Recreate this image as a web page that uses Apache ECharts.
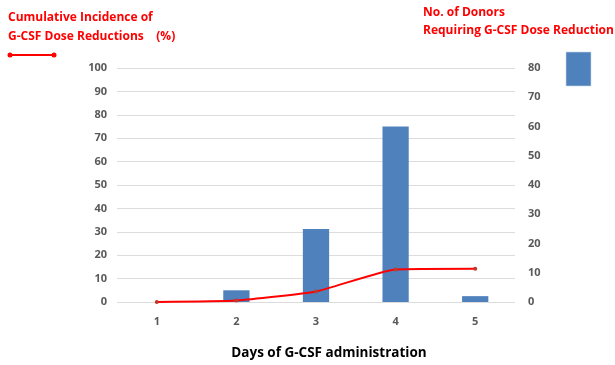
<!DOCTYPE html>
<html>
<head>
<meta charset="utf-8">
<script src="https://cdn.jsdelivr.net/npm/echarts@6/dist/echarts.min.js"></script>
<style>
  html, body { margin: 0; padding: 0; background: #fff; }
  #chart { width: 615px; height: 365px; }
</style>
</head>
<body>
<div id="chart"></div>
<script>
// Days of G-CSF administration
const days = ['1', '2', '3', '4', '5'];
// Number of donors requiring a G-CSF dose reduction on each day
const donorCounts = [0, 4, 25, 60, 2];
// Cumulative incidence of dose reductions (%)
const cumulativeIncidence = [0, 0.6, 4.5, 13.9, 14.2];

const labelFont = { color: '#595959', fontSize: 11, fontWeight: 'bold', fontFamily: 'Open Sans' };
const red = '#ff0000';

const chart = echarts.init(document.getElementById('chart'));
chart.setOption({
  animation: false,
  grid: { left: 117, right: 100, top: 68, bottom: 63 },
  xAxis: {
    type: 'category',
    data: days,
    axisLine: { show: false },
    axisTick: { show: false },
    axisLabel: Object.assign({ margin: 14 }, labelFont),
    name: 'Days of G-CSF administration',
    nameLocation: 'middle',
    nameGap: 44,
    nameTextStyle: {
      color: '#000', fontSize: 13.5, fontWeight: 'bold', fontFamily: 'Open Sans',
      padding: [0, 0, 0, 26]
    }
  },
  yAxis: [
    {
      type: 'value', min: 0, max: 100, interval: 10,
      axisLine: { show: false }, axisTick: { show: false },
      axisLabel: Object.assign({ margin: 10 }, labelFont),
      splitLine: { lineStyle: { color: '#dcdcdc', width: 1 } }
    },
    {
      type: 'value', min: 0, max: 80, interval: 10, position: 'right',
      axisLine: { show: false }, axisTick: { show: false },
      axisLabel: Object.assign({ margin: 13 }, labelFont),
      splitLine: { show: false }
    }
  ],
  series: [
    {
      name: 'No. of Donors Requiring G-CSF Dose Reduction',
      type: 'bar',
      yAxisIndex: 1,
      data: donorCounts,
      barWidth: '33%',
      itemStyle: { color: '#4f81bd' }
    },
    {
      name: 'Cumulative Incidence of G-CSF Dose Reductions (%)',
      type: 'line',
      yAxisIndex: 0,
      data: cumulativeIncidence,
      smooth: 0.15,
      symbol: 'circle',
      symbolSize: 4,
      lineStyle: { color: red, width: 2 },
      itemStyle: { color: '#c0392b' },
      z: 5
    }
  ],
  graphic: [
    {
      type: 'text', left: 8, top: 8,
      style: {
        text: 'Cumulative Incidence of\nG-CSF Dose Reductions    (%)',
        fill: red, font: 'bold 12px "Open Sans"', lineHeight: 19
      }
    },
    {
      type: 'line', shape: { x1: 10, y1: 55, x2: 54, y2: 55 },
      style: { stroke: red, lineWidth: 2 }
    },
    { type: 'circle', shape: { cx: 10, cy: 55, r: 2.5 }, style: { fill: red } },
    { type: 'circle', shape: { cx: 54, cy: 55, r: 2.5 }, style: { fill: red } },
    {
      type: 'text', left: 423, top: 4,
      style: {
        text: 'No. of Donors\nRequiring G-CSF Dose Reduction',
        fill: red, font: 'bold 12px "Open Sans"', lineHeight: 18
      }
    },
    {
      type: 'rect', shape: { x: 566, y: 52, width: 25, height: 34 },
      style: { fill: '#4f81bd', stroke: '#c9d8ea', lineWidth: 0.6 }
    }
  ]
});
</script>
</body>
</html>
